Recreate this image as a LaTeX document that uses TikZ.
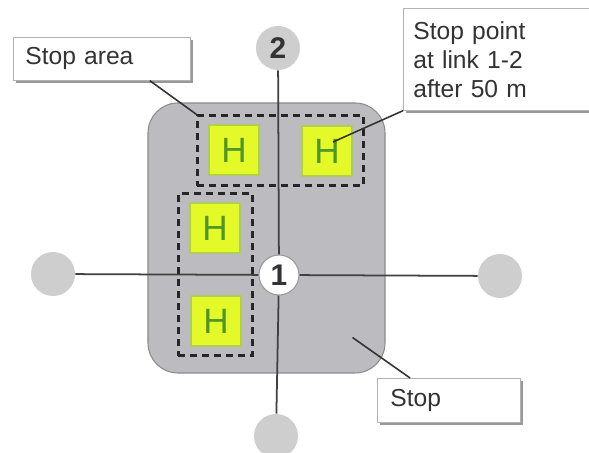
\documentclass[tikz,border=0pt]{standalone}
\usepackage{fontspec}
\setmainfont{Liberation Sans}
\usetikzlibrary{positioning,fit,calc,shadows}

\definecolor{stopgray}{RGB}{188,188,192}
\definecolor{nodegray}{RGB}{206,206,206}
\definecolor{haltyellow}{RGB}{228,250,40}
\definecolor{haltedge}{RGB}{176,206,84}
\definecolor{haltgreen}{RGB}{78,150,40}

\begin{document}
\begin{tikzpicture}[
  x=0.2mm, y=-0.2mm,
  zone/.style={draw=black!45, fill=stopgray, rounded corners=6mm, line width=0.6pt, inner sep=0pt},
  halt/.style={draw=haltedge, line width=1.2pt, fill=haltyellow, minimum size=10mm, inner sep=0pt, text=haltgreen, font=\fontsize{20}{20}\selectfont},
  area/.style={draw=black!85, dash pattern=on 1.4mm off 1mm, line width=1.4pt, inner xsep=2.1mm, inner ysep=1.7mm},
  nd/.style={circle, fill=nodegray, minimum size=8.8mm, inner sep=0pt, font=\fontsize{17}{17}\selectfont\bfseries, text=black!80},
  link/.style={draw=black!75, line width=1pt},
  lbl/.style={draw=black!30, fill=white, anchor=north west, align=left, inner ysep=0pt,
    font=\fontsize{14}{16.5}\selectfont, text=black!80,
    drop shadow={shadow xshift=0.6mm, shadow yshift=-0.6mm, fill=black!50, opacity=0.8}},
  lead/.style={draw=black!80, line width=0.9pt},
]

% --- page frame ---
\path[use as bounding box, fill=white] (0,0) rectangle (589,453);

% --- stop (grey zone) ---
\node[zone, minimum width=47.4mm, minimum height=54mm] (stop) at (266.5,238) {};

% --- stop points (H) ---
\node[halt] (h1) at (234,150) {H};
\node[halt] (h2) at (327,151) {H};
\node[halt] (h3) at (215,228) {H};
\node[halt] (h4) at (216,321) {H};

% --- stop areas (dashed) ---
\node[area, fit=(h1)(h2)] (toparea) {};
\node[area, fit=(h3)(h4)] (leftarea) {};

% --- network nodes ---
\node[nd] (n2) at (278,48) {2};
\node[nd, fill=white, draw=black!40, line width=0.6pt, minimum size=8mm] (n1) at (279,275) {1};
\node[nd] (nW) at (53,274) {};
\node[nd] (nE) at (500,276) {};
\node[nd] (nS) at (276,436) {};

% --- links ---
\draw[link] (n2) -- (n1);
\draw[link] (n1) -- (nS);
\draw[link] (nW) -- (n1);
\draw[link] (n1) -- (nE);

% --- labels ---
\node[lbl, text width=30.6mm, inner xsep=2.4mm, minimum height=8.6mm] (arealbl) at (13,37) {Stop area};
\node[lbl, text width=37mm, inner xsep=2mm, minimum height=20.4mm] (ptlbl) at (403,8) {Stop point\\at link 1-2\\after 50 m};
\node[lbl, text width=23.4mm, inner xsep=2.6mm, minimum height=8.8mm] (stoplbl) at (377,378) {Stop};

% --- callout lines ---
\draw[lead] ($(arealbl.south west)!0.77!(arealbl.south east)$) -- (toparea.north west);
\draw[lead] (ptlbl.south west) -- ($(h2.center)+(6,-9)$);
\draw[lead] ($(stoplbl.north west)!0.23!(stoplbl.north east)$) -- ($(stop.south east)+(-33,-36)$);

\end{tikzpicture}
\end{document}
